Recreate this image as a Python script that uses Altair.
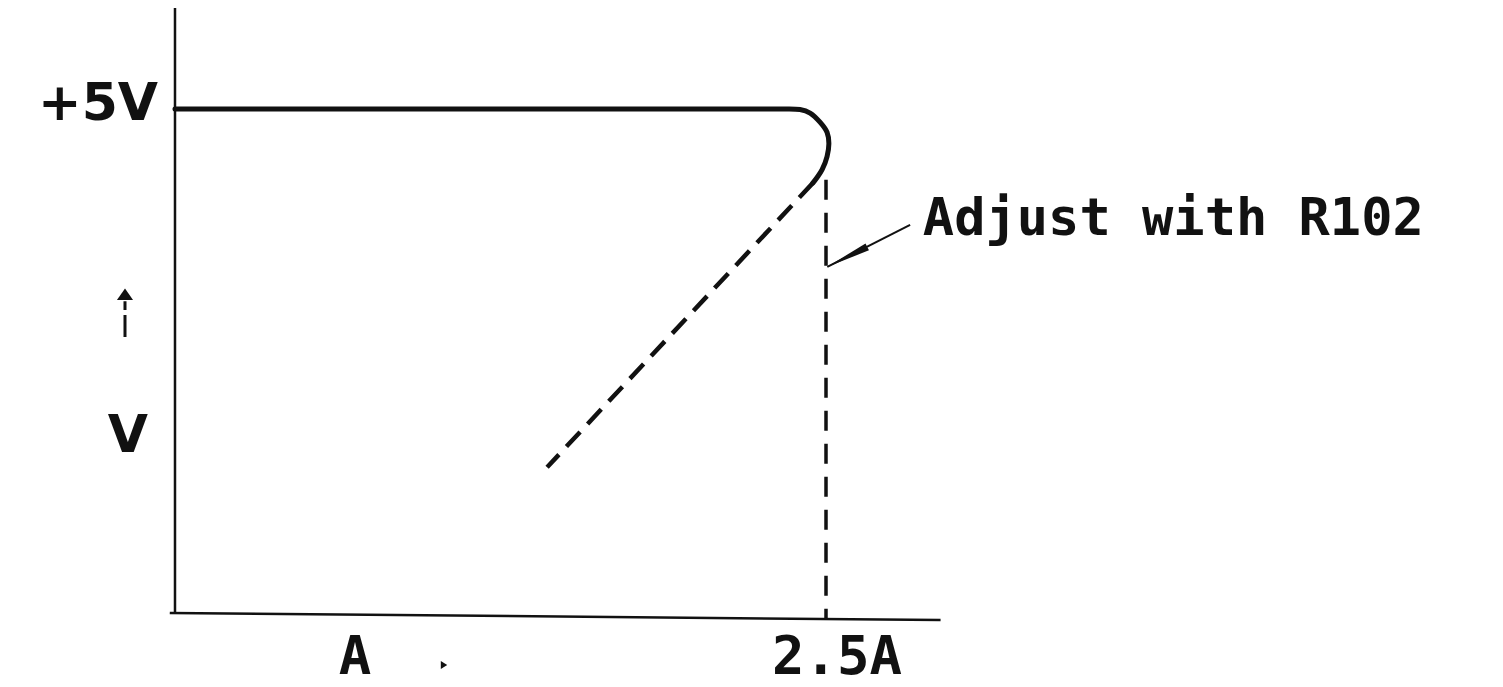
import altair as alt
import pandas as pd

# ---- scale calibration (amps / volts shown in the drawing area) ----
AMP_DOMAIN = [-0.6413, 5.0038]
VOLT_DOMAIN = [-0.7115, 5.998]

# ---- data ----
curve_amps = [0.0, 1.20, 2.30, 2.40, 2.439, 2.477, 2.504, 2.511, 2.504, 2.485, 2.465, 2.450]
curve_volts = [5.0, 5.0, 5.0, 4.995, 4.96, 4.87, 4.77, 4.66, 4.53, 4.40, 4.32, 4.27]

foldback_amps = [2.450, 1.429]
foldback_volts = [4.27, 1.46]

limit_amps = [2.5, 2.5]
limit_volts = [4.30, -0.04]

yaxis_amps = [0.0, 0.0]
yaxis_volts = [0.02, 6.0]
xaxis_amps = [-0.02, 2.94]
xaxis_volts = [0.02, -0.05]

pointer_amps = [2.823, 2.505]
pointer_volts = [3.854, 3.44]
pointer_head_amps = [2.581]
pointer_head_volts = [3.538]

uparrow_amps = [-0.192, -0.192]
uparrow_volts = [2.747, 3.10]
uparrow_head_amps = [-0.192]
uparrow_head_volts = [3.17]

rightmark_amps = [1.03]
rightmark_volts = [-0.494]

# labels: text, amps, volts (baseline)
label_text = ["+5V", "V", "A", "2.5A", "Adjust with R102"]
label_amps = [-0.065, -0.181, 0.691, 2.542, 2.872]
label_volts = [4.89, 1.611, -0.583, -0.583, 3.754]

X = lambda: alt.X("a:Q", scale=alt.Scale(domain=AMP_DOMAIN, nice=False, zero=False), axis=None)
Y = lambda: alt.Y("v:Q", scale=alt.Scale(domain=VOLT_DOMAIN, nice=False, zero=False), axis=None)


def df(amps, volts):
    return pd.DataFrame({"a": amps, "v": volts, "o": list(range(len(amps)))})


INK = "#111111"

y_axis = alt.Chart(df(yaxis_amps, yaxis_volts)).mark_line(color=INK, strokeWidth=2.5).encode(x=X(), y=Y(), order="o:Q")
x_axis = alt.Chart(df(xaxis_amps, xaxis_volts)).mark_line(color=INK, strokeWidth=2.5).encode(x=X(), y=Y(), order="o:Q")

curve = alt.Chart(df(curve_amps, curve_volts)).mark_line(
    color=INK, strokeWidth=5, interpolate="catmull-rom", strokeCap="round"
).encode(x=X(), y=Y(), order="o:Q")

foldback = alt.Chart(df(foldback_amps, foldback_volts)).mark_line(
    color=INK, strokeWidth=4.5, strokeDash=[20, 11]
).encode(x=X(), y=Y(), order="o:Q")

limit = alt.Chart(df(limit_amps, limit_volts)).mark_line(
    color=INK, strokeWidth=3.5, strokeDash=[20, 13]
).encode(x=X(), y=Y(), order="o:Q")

pointer = alt.Chart(df(pointer_amps, pointer_volts)).mark_line(
    color=INK, strokeWidth=2
).encode(x=X(), y=Y(), order="o:Q")

pointer_head = alt.Chart(df(pointer_head_amps, pointer_head_volts)).mark_point(
    shape="M0,-1L0.17,1L-0.17,1Z", size=2025, filled=True, angle=243.4,
    color=INK, opacity=1, strokeWidth=0
).encode(x=X(), y=Y())

uparrow = alt.Chart(df(uparrow_amps, uparrow_volts)).mark_line(
    color=INK, strokeWidth=3, strokeDash=[22, 5]
).encode(x=X(), y=Y(), order="o:Q")

uparrow_head = alt.Chart(df(uparrow_head_amps, uparrow_head_volts)).mark_point(
    shape="M0,-0.5L0.7,0.5L-0.7,0.5Z", size=529, filled=True,
    color=INK, opacity=1, strokeWidth=0
).encode(x=X(), y=Y())

rightmark = alt.Chart(df(rightmark_amps, rightmark_volts)).mark_point(
    shape="M-0.6,-1L1,0L-0.6,1Z", size=64, filled=True,
    color=INK, opacity=1, strokeWidth=0
).encode(x=X(), y=Y())


def text_layer(i, font, size, align):
    d = pd.DataFrame({"a": [label_amps[i]], "v": [label_volts[i]], "t": [label_text[i]]})
    return alt.Chart(d).mark_text(
        font=font, fontSize=size, fontWeight="bold", align=align,
        baseline="alphabetic", color=INK
    ).encode(x=X(), y=Y(), text="t:N")


texts = [
    text_layer(0, "DejaVu Sans", 52, "right"),
    text_layer(1, "DejaVu Sans", 52, "center"),
    text_layer(2, "DejaVu Sans Mono", 54, "center"),
    text_layer(3, "DejaVu Sans Mono", 54, "center"),
    text_layer(4, "DejaVu Sans Mono", 52, "left"),
]

chart = alt.layer(
    y_axis, x_axis, limit, foldback, curve, pointer, pointer_head,
    uparrow, uparrow_head, rightmark, *texts
).properties(
    width=1470, height=679, padding=0, autosize=alt.AutoSizeParams(type="none"),
    background="white"
).configure_view(stroke=None)

chart.save("out.html", embed_options={"renderer": "svg", "actions": False})
